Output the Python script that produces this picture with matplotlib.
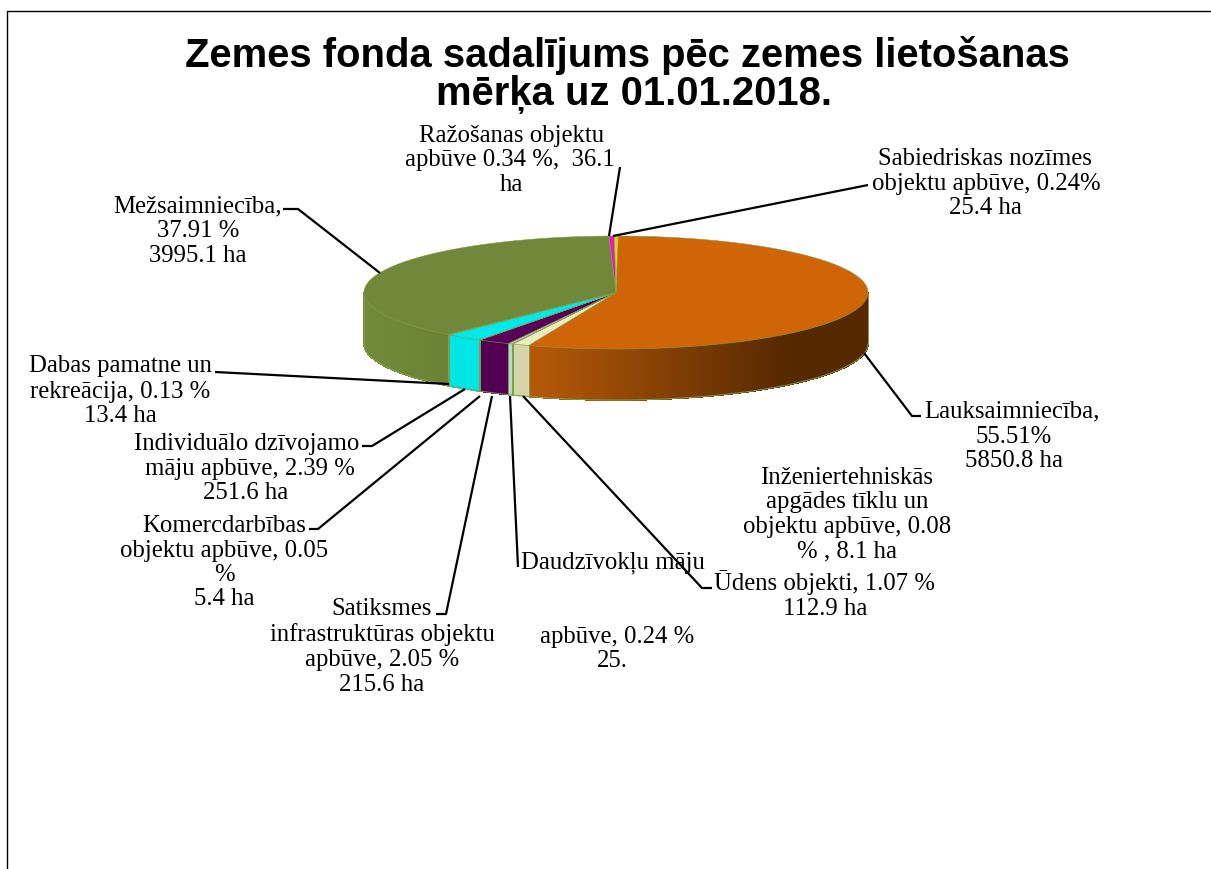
import numpy as np
import matplotlib
matplotlib.use("Agg")
import matplotlib.pyplot as plt

title_lines = [("Zemes fonda sadalījums pēc zemes lietošanas", 627, 67), ("mērķa uz 01.01.2018.", 634, 105)]
categories = ["Lauksaimniecība", "Ūdens objekti", "Inženiertehniskās apgādes", "Daudzīvokļu māju apbūve",
              "Satiksmes infrastruktūra", "Komercdarbība", "Individuālo māju apbūve", "Dabas pamatne",
              "Mežsaimniecība", "Ražošanas objekti", "Sabiedriskas nozīmes objekti"]
percent = [55.51, 1.07, 0.08, 0.24, 2.05, 0.05, 2.39, 0.13, 37.91, 0.34, 0.24]
top_colors = ["#D06508", "#EEEBBE", "#9FC4C8", "#B9D5D0", "#5A0058", "#8A3F80", "#00E8E8", "#7FAF60",
              "#71873A", "#F010D8", "#E8D800"]
wall_start = ["#B85A08", "#D6D5A8", "#9FC4C8", "#B9D5D0", "#540052", "#8A3F80", "#00E5E5", "#7FAF60",
              "#6B8236", "#F010D8", "#E8D800"]
wall_end = ["#552800", "#D6D5A8", "#9FC4C8", "#B9D5D0", "#540052", "#8A3F80", "#00E5E5", "#7FAF60",
            "#708A3A", "#F010D8", "#E8D800"]

labels = [
    ("Ražošanas objektu", 512, 142), ("apbūve 0.34 %,  36.1", 510, 166), ("ha", 512, 191),
    ("Sabiedriskas nozīmes", 985, 165), ("objektu apbūve, 0.24%", 986, 190), ("25.4 ha", 985, 214),
    ("Mežsaimniecība,", 198, 212), ("37.91 %", 198, 237), ("3995.1 ha", 198, 262),
    ("Lauksaimniecība,", 1012, 417), ("55.51%", 1014, 443), ("5850.8 ha", 1014, 467),
    ("Inženiertehniskās", 847, 484), ("apgādes tīklu un", 847, 508),
    ("objektu apbūve, 0.08", 847, 533), ("% , 8.1 ha", 847, 557),
    ("Ūdens objekti, 1.07 %", 825, 590), ("112.9 ha", 825, 615),
    ("Daudzīvokļu māju", 613, 568), ("apbūve, 0.24 %", 617, 643), ("25.", 612, 667),
    ("Satiksmes", 382, 615), ("infrastruktūras objektu", 382, 641), ("apbūve, 2.05 %", 382, 666), ("215.6 ha", 382, 691),
    ("Komercdarbības", 224, 532), ("objektu apbūve, 0.05", 224, 557), ("%", 224, 581), ("5.4 ha", 224, 605),
    ("Individuālo dzīvojamo", 247, 450), ("māju apbūve, 2.39 %", 250, 475), ("251.6 ha", 246, 499),
    ("Dabas pamatne un", 120, 372), ("rekreācija, 0.13 %", 120, 398), ("13.4 ha", 120, 422),
]
leaders = [
    [(620, 168), (609, 237)],
    [(868, 186), (613, 237)],
    [(283, 210), (298, 210), (380, 274)],
    [(864, 354), (912, 417), (921, 417)],
    [(523, 397), (702, 589), (712, 589)],
    [(510, 397), (518, 568)],
    [(492, 397), (446, 615), (436, 615)],
    [(480, 397), (318, 530), (309, 530)],
    [(465, 390), (372, 447), (362, 447)],
    [(215, 373), (449, 385)],
]

cx, cy, rx, ry, depth = 616, 293.5, 252, 56.5, 51
rotation_deg = 0.5
edge = "#7E9F48"


def rgb(c):
    return np.array(matplotlib.colors.to_rgb(c))


fig = plt.figure(figsize=(12.11, 8.70), dpi=100)
ax = fig.add_axes([0, 0, 1, 1])
ax.set_xlim(0, 1211)
ax.set_ylim(870, 0)
ax.axis("off")

# frame
ax.plot([7, 7, 1211], [870, 12, 12], color="black", lw=1, solid_capstyle="butt")

angles = np.cumsum([0] + percent) / sum(percent) * 2 * np.pi + np.radians(rotation_deg)


def pt(t):
    return cx + rx * np.sin(t), cy - ry * np.cos(t)


# walls, clockwise from the top, only the visible front half
for i in range(len(percent)):
    a0, a1 = max(angles[i], np.pi / 2), min(angles[i + 1], 3 * np.pi / 2)
    if a1 <= a0:
        continue
    n = max(2, int((a1 - a0) / 0.012))
    ts = np.linspace(a0, a1, n + 1)
    c0, c1 = rgb(wall_start[i]), rgb(wall_end[i])
    for t0, t1 in zip(ts[:-1], ts[1:]):
        x0, y0 = pt(t0)
        x1, y1 = pt(t1)
        # colour runs from the slice edge towards the right side of the pie
        if i == 0:
            f = np.clip((x0 - 527) / (790 - 527), 0, 1)
            col = c0 * (1 - f) + c1 * f
        else:
            f = np.clip((x0 - 364) / (450 - 364), 0, 1)
            col = c1 * (1 - f) + c0 * f
        ax.fill([x0, x1, x1, x0], [y0, y1, y1 + depth, y0 + depth], facecolor=col, edgecolor=col,
                lw=0.6, antialiased=False, zorder=2)
    x0, y0 = pt(a0)
    x1, y1 = pt(a1)
    ax.plot([x0, x0], [y0, y0 + depth], color=edge, lw=0.7, zorder=3)
    ax.plot([x1, x1], [y1, y1 + depth], color=edge, lw=0.7, zorder=3)
    xs, ys = pt(ts)
    ax.plot(xs, ys + depth, color=edge, lw=0.7, zorder=3)

# top faces
for i in range(len(percent)):
    ts = np.linspace(angles[i], angles[i + 1], max(3, int((angles[i + 1] - angles[i]) / 0.01)))
    xs, ys = pt(ts)
    ax.fill(np.r_[cx, xs], np.r_[cy, ys], facecolor=top_colors[i], edgecolor=edge, lw=0.4, zorder=4)

# leader lines
for path in leaders:
    xs, ys = zip(*path)
    ax.plot(xs, ys, color="black", lw=1.6, zorder=5, solid_capstyle="butt")

# labels
for text, x, y in labels:
    ax.text(x, y, text, ha="center", va="baseline", fontsize=17.8, family="Liberation Serif", color="black", zorder=6)

for text, x, y in title_lines:
    ax.text(x, y, text, ha="center", va="baseline", fontsize=28.8, fontweight="bold",
            family="Liberation Sans", color="black", zorder=6)

fig.savefig("out.png", dpi=100)
